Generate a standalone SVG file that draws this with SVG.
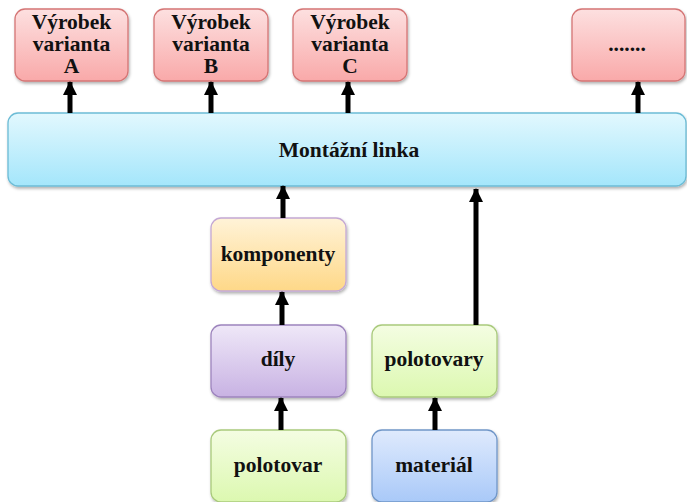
<svg xmlns="http://www.w3.org/2000/svg" width="687" height="502" viewBox="0 0 687 502">
<defs>
<linearGradient id="gRed" x1="0" y1="0" x2="0" y2="1"><stop offset="0" stop-color="#fde0e0"/><stop offset="1" stop-color="#f9a9a9"/></linearGradient>
<linearGradient id="gBlue" x1="0" y1="0" x2="0" y2="1"><stop offset="0" stop-color="#e2f8fe"/><stop offset="1" stop-color="#a4e6fb"/></linearGradient>
<linearGradient id="gOrange" x1="0" y1="0" x2="0" y2="1"><stop offset="0" stop-color="#fff3d8"/><stop offset="1" stop-color="#fed888"/></linearGradient>
<linearGradient id="gPurple" x1="0" y1="0" x2="0" y2="1"><stop offset="0" stop-color="#efe8f8"/><stop offset="1" stop-color="#c8b2e3"/></linearGradient>
<linearGradient id="gGreen" x1="0" y1="0" x2="0" y2="1"><stop offset="0" stop-color="#f4fde2"/><stop offset="1" stop-color="#dcf8b0"/></linearGradient>
<linearGradient id="gMat" x1="0" y1="0" x2="0" y2="1"><stop offset="0" stop-color="#dfeafd"/><stop offset="1" stop-color="#a9c9f8"/></linearGradient>
<filter id="sh" x="-10%" y="-10%" width="120%" height="130%"><feDropShadow dx="1" dy="2" stdDeviation="1.5" flood-color="#000" flood-opacity="0.3"/></filter>
<marker id="ah" markerUnits="userSpaceOnUse" markerWidth="14" markerHeight="14" viewBox="0 0 14 14" refX="13" refY="7" orient="auto"><path d="M0,0 L14,7 L0,14 z" fill="#000"/></marker>
</defs>
<style>
.box{stroke-width:1.3;filter:url(#sh)}
.red{fill:url(#gRed);stroke:#d57575}
.t{font-family:"Liberation Serif","Times New Roman",serif;font-weight:bold;font-size:21.5px;fill:#111;text-anchor:middle}
.arr{stroke:#000;stroke-width:5;fill:none;marker-end:url(#ah)}
</style>
<g id="varA"><rect class="box red" x="15" y="9" width="113" height="72" rx="10"/><text class="t" x="71.5" y="29">Výrobek</text><text class="t" x="71.5" y="51">varianta</text><text class="t" x="71.5" y="73">A</text></g>
<g id="varB"><rect class="box red" x="154" y="9" width="114" height="72" rx="10"/><text class="t" x="211" y="29">Výrobek</text><text class="t" x="211" y="51">varianta</text><text class="t" x="211" y="73">B</text></g>
<g id="varC"><rect class="box red" x="293" y="9" width="114" height="72" rx="10"/><text class="t" x="350" y="29">Výrobek</text><text class="t" x="350" y="51">varianta</text><text class="t" x="350" y="73">C</text></g>
<g id="varDots"><rect class="box red" x="572" y="9" width="113" height="72" rx="10"/><text class="t" x="627" y="51">.......</text></g>
<g id="linka"><rect class="box" x="8" y="113" width="678" height="73" rx="10" fill="url(#gBlue)" stroke="#6cbcd6"/><text class="t" x="349" y="157">Montážní linka</text></g>
<g id="komponenty"><rect class="box" x="211" y="218" width="135" height="73" rx="10" fill="url(#gOrange)" stroke="#c4a8d4"/><text class="t" x="278" y="261">komponenty</text></g>
<g id="dily"><rect class="box" x="211" y="325" width="135" height="72" rx="10" fill="url(#gPurple)" stroke="#9d84bd"/><text class="t" x="278" y="366">díly</text></g>
<g id="polotovar"><rect class="box" x="211" y="430" width="135" height="72" rx="10" fill="url(#gGreen)" stroke="#a9ca7c"/><text class="t" x="278" y="472">polotovar</text></g>
<g id="polotovary"><rect class="box" x="372" y="325" width="125" height="72" rx="10" fill="url(#gGreen)" stroke="#a9ca7c"/><text class="t" x="434" y="366">polotovary</text></g>
<g id="material"><rect class="box" x="372" y="430" width="125" height="72" rx="10" fill="url(#gMat)" stroke="#7096c8"/><text class="t" x="434" y="472">materiál</text></g>
<g id="connectors">
<line class="arr" x1="70" y1="113" x2="70" y2="82"/>
<line class="arr" x1="211" y1="113" x2="211" y2="82"/>
<line class="arr" x1="348" y1="113" x2="348" y2="82"/>
<line class="arr" x1="638" y1="113" x2="638" y2="82"/>
<line class="arr" x1="283" y1="218" x2="283" y2="186"/>
<line class="arr" x1="282" y1="325" x2="282" y2="292"/>
<line class="arr" x1="281" y1="430" x2="281" y2="398"/>
<line class="arr" x1="476" y1="325" x2="476" y2="189"/>
<line class="arr" x1="435" y1="430" x2="435" y2="398"/>
</g>
</svg>
